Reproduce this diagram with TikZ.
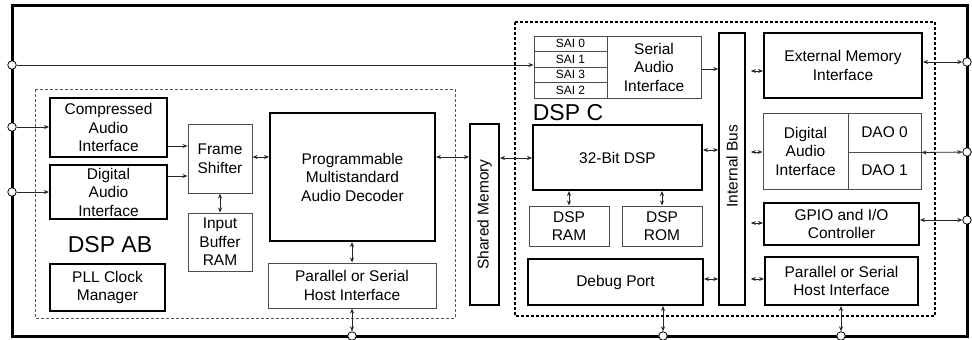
\documentclass[tikz,border=0pt]{standalone}
\usepackage{fontspec}
\setmainfont{Liberation Sans}
\usetikzlibrary{arrows.meta}
\newcommand\boxfont{\fontsize{15.5}{18.5}\selectfont}
\newcommand\saifont{\fontsize{12}{13}\selectfont}
\newcommand\bigfont{\fontsize{23}{26}\selectfont}
\begin{document}
\begin{tikzpicture}[x=1pt,y=-1pt,
  thickbox/.style={draw=black, line width=2pt, inner sep=0pt, align=center, font=\boxfont},
  thinbox/.style={draw=black!70, line width=1pt, inner sep=0pt, align=center, font=\boxfont},
  saicell/.style={draw=black!70, line width=1pt, inner sep=0pt, align=center, font=\saifont, minimum width=73pt, minimum height=15.5pt},
  port/.style={circle, draw=black, fill=white, line width=0.8pt, minimum size=8.5pt, inner sep=0pt},
  con/.style={line width=0.8pt, draw=black!85, -{Stealth[length=5pt,width=4pt]}},
  bicon/.style={line width=0.8pt, draw=black!85, {Stealth[length=5pt,width=4pt]}-{Stealth[length=5pt,width=4pt]}},
  lbl/.style={inner sep=0pt, align=center, font=\boxfont},
  biglbl/.style={inner sep=0pt, font=\bigfont}]
\useasboundingbox (0,0) rectangle (972,340);
\fill[white] (0,0) rectangle (972,340);

% outer frame
\draw[line width=3pt] (12,5) rectangle (967,336);

% dashed groups
\draw[draw=black!65, line width=0.8pt, dash pattern=on 3pt off 2pt] (35,89) rectangle (455,318);
\draw[draw=black, line width=1.6pt, dash pattern=on 3pt off 2pt] (515,22) rectangle (935,316);

% DSP AB blocks
\node[thickbox, minimum width=117pt, minimum height=59pt] (comp) at (108.5,127.5) {Compressed\\Audio\\Interface};
\node[thickbox, minimum width=117pt, minimum height=54pt] (dai1) at (108.5,192) {Digital\\Audio\\Interface};
\node[thickbox, minimum width=115pt, minimum height=47pt] (pll) at (107.5,287.5) {PLL Clock\\Manager};
\node[biglbl] (dspab) at (110,245) {DSP AB};
\node[thinbox, minimum width=64pt, minimum height=69pt] (frame) at (220,158.5) {Frame\\Shifter};
\node[thinbox, minimum width=64pt, minimum height=58pt] (ibr) at (220,242) {Input\\Buffer\\RAM};
\node[thickbox, minimum width=165pt, minimum height=128pt] (prog) at (352.5,177) {Programmable\\Multistandard\\Audio Decoder};
\node[thinbox, minimum width=168pt, minimum height=45pt] (pshi1) at (352,285.5) {Parallel or Serial\\Host Interface};

% shared memory
\node[thickbox, minimum width=29pt, minimum height=181pt] (shm) at (484.5,214.5) {};
\node[lbl, rotate=90] (shmlbl) at (shm) {Shared Memory};

% DSP C blocks
\node[saicell] (sai0) at (570.5,43.75) {SAI 0};
\node[saicell] (sai1) at (570.5,59.25) {SAI 1};
\node[saicell] (sai3) at (570.5,74.75) {SAI 3};
\node[saicell] (sai2) at (570.5,90.25) {SAI 2};
\node[thinbox, minimum width=94pt, minimum height=62pt] (sai) at (654,67) {Serial\\Audio\\Interface};
\node[biglbl] (dspc) at (568,113) {DSP C};
\node[thickbox, minimum width=169pt, minimum height=65pt] (dsp32) at (617.5,157.5) {32-Bit DSP};
\node[thinbox, minimum width=80pt, minimum height=40pt] (dspram) at (569,226) {DSP\\RAM};
\node[thinbox, minimum width=80pt, minimum height=40pt] (dsprom) at (662,226) {DSP\\ROM};
\node[thickbox, minimum width=175pt, minimum height=46pt] (debug) at (615.5,282) {Debug Port};
\node[draw=black, line width=1.6pt, inner sep=0pt, minimum width=26pt, minimum height=272pt] (bus) at (732,169) {};
\node[lbl, rotate=90] (buslbl) at (732,166) {Internal Bus};
\node[thickbox, minimum width=158pt, minimum height=65pt] (emi) at (843,65.5) {External Memory\\Interface};
\node[thinbox, minimum width=85pt, minimum height=76pt] (dai2) at (805.5,151) {Digital\\Audio\\Interface};
\node[thinbox, minimum width=73pt, minimum height=39pt] (dao0) at (884.5,132.5) {DAO 0};
\node[thinbox, minimum width=73pt, minimum height=37pt] (dao1) at (884.5,170.5) {DAO 1};
\node[thickbox, minimum width=155pt, minimum height=42pt] (gpio) at (841.5,224) {GPIO and I/O\\Controller};
\node[thickbox, minimum width=153pt, minimum height=48pt] (pshi2) at (841.5,281) {Parallel or Serial\\Host Interface};

% ports
\node[port] (pl1) at (12,65) {};
\node[port] (pl2) at (12,127) {};
\node[port] (pl3) at (12,192) {};
\node[port] (pr1) at (967,62) {};
\node[port] (pr2) at (967,152) {};
\node[port] (pr3) at (967,220) {};
\node[port] (pb1) at (352,336) {};
\node[port] (pb2) at (663,336) {};
\node[port] (pb3) at (841,336) {};

% connectors
\draw[con] (pl1) -- (sai1.west |- 0,65);
\draw[con] (pl2) -- (comp.west |- 0,127);
\draw[con] (pl3) -- (dai1.west |- 0,192);
\draw[con] (comp.east |- 0,146) -- (frame.west |- 0,146);
\draw[con] (dai1.east |- 0,176) -- (frame.west |- 0,176);
\draw[bicon] (frame) -- (ibr);
\draw[bicon] (frame.east |- 0,157) -- (prog.west |- 0,157);
\draw[bicon] (prog.east |- 0,157) -- (shm.west |- 0,157);
\draw[bicon] (prog.south -| 352,0) -- (pshi1.north -| 352,0);
\draw[bicon] (pshi1.south -| 352,0) -- (pb1);
\draw[bicon] (shm.east |- 0,158) -- (dsp32.west |- 0,158);
\draw[bicon] (dsp32.south -| dspram) -- (dspram);
\draw[bicon] (dsp32.south -| dsprom) -- (dsprom);
\draw[con] (sai.east |- 0,69) -- (bus.west |- 0,69);
\draw[bicon] (dsp32.east |- 0,150) -- (bus.west |- 0,150);
\draw[bicon] (debug.east |- 0,279) -- (bus.west |- 0,279);
\draw[bicon] (debug.south -| pb2) -- (pb2);
\draw[bicon, shorten <=5pt] (bus.east |- 0,71) -- (emi.west |- 0,71);
\draw[bicon, shorten <=5pt] (bus.east |- 0,152) -- (dai2.west |- 0,152);
\draw[bicon, shorten <=5pt] (bus.east |- 0,223) -- (gpio.west |- 0,223);
\draw[bicon, shorten <=5pt] (bus.east |- 0,279) -- (pshi2.west |- 0,279);
\draw[bicon] (emi.east |- pr1) -- (pr1);
\draw[bicon] (dao0.south east) -- (pr2);
\draw[bicon] (gpio.east |- pr3) -- (pr3);
\draw[bicon] (pshi2.south -| pb3) -- (pb3);
\end{tikzpicture}
\end{document}
